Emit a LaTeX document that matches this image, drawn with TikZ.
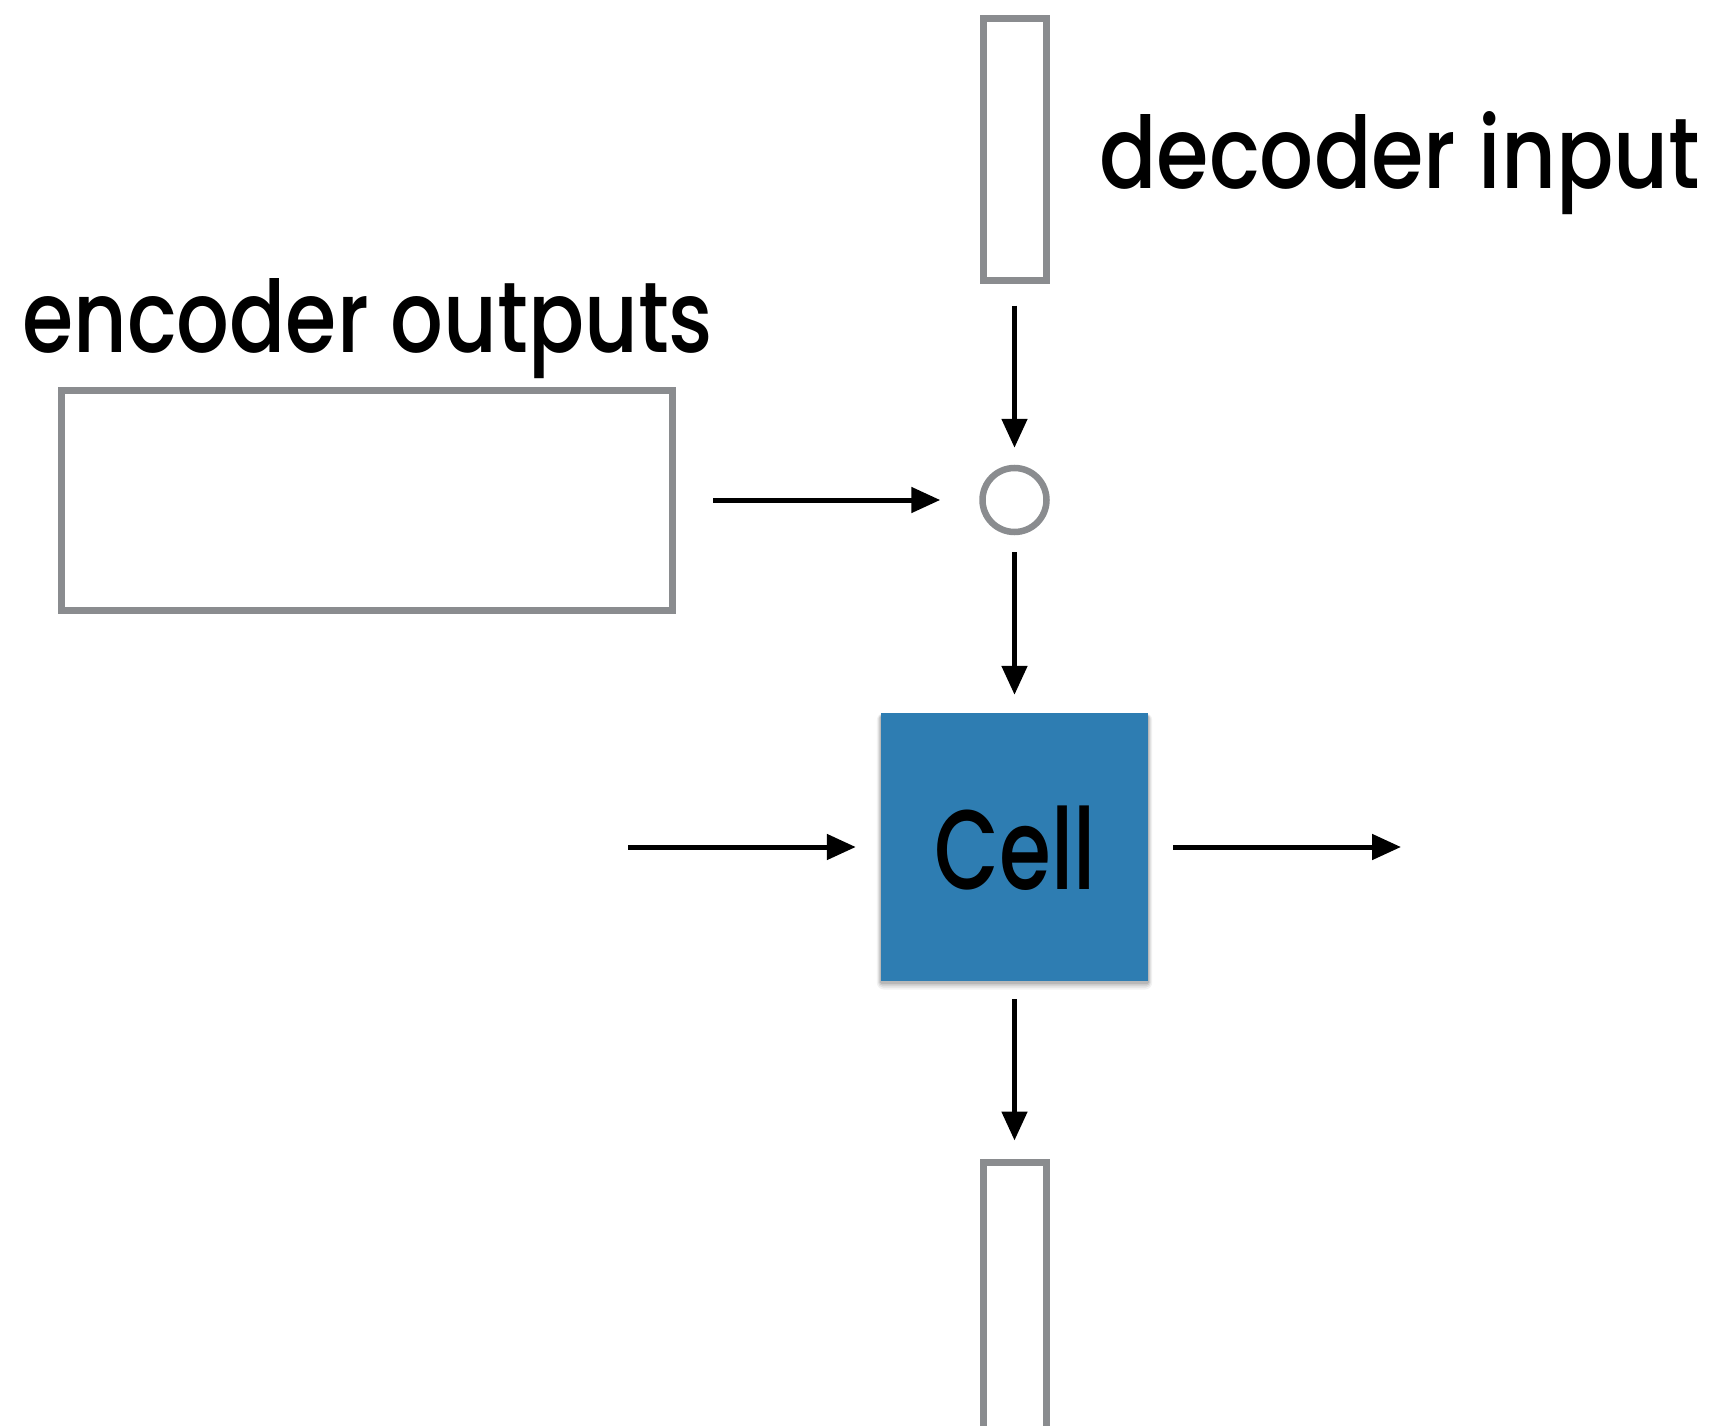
\documentclass[tikz,border=0pt]{standalone}
\usepackage{fontspec}
\usepackage{graphicx}
\setmainfont{Poppins}[UprightFont=* Medium]
\usetikzlibrary{arrows.meta}
\definecolor{boxgray}{HTML}{8A8C8F}
\definecolor{cellblue}{RGB}{46,125,178}
\begin{document}
\begin{tikzpicture}[x=1pt,y=-1pt,
  outline/.style={draw=boxgray,line width=7pt,fill=white,inner sep=0pt,rectangle},
  flow/.style={-{Triangle[length=29pt,width=25pt]},line width=5pt},
  caption/.style={inner sep=0pt,anchor=base west},
  cellbox/.style={fill=cellblue,inner sep=0pt,minimum width=267pt,minimum height=268pt}]
\useasboundingbox (0,0) rectangle (1714,1426);
\clip (0,0) rectangle (1714,1426);

% vectors and attention pieces
\node[outline,minimum width=63pt,minimum height=261pt] (dec) at (1014.5,149.5) {};
\node[outline,minimum width=611pt,minimum height=220pt] (enc) at (367,500) {};
\node[draw=boxgray,line width=6.5pt,circle,minimum size=64pt,inner sep=0pt] (att) at (1014.5,500) {};

% soft shadow under the cell
\foreach \s/\o in {7/0.05,5/0.07,3/0.09,1.5/0.10}
  \fill[black,opacity=\o,rounded corners=\s pt] (881-\s*0.6,716-\s*0.4) rectangle (1148+\s*0.6,981+\s+1.5);
\node[cellbox] (cell) at (1014.5,847) {};
\node at (1015,848) {\fontsize{113}{120}\selectfont\resizebox{161pt}{\height}{Cell}};
\node[outline,minimum width=63pt,minimum height=300pt] (out) at (1014.5,1312) {};

% labels
\node[caption] (declab) at (1099,189) {\fontsize{100}{110}\selectfont\resizebox{601pt}{\height}{decoder input}};
\node[caption] (enclab) at (22,352) {\fontsize{100}{110}\selectfont\resizebox{691pt}{\height}{encoder outputs}};

% free ends of the recurrent state arrows
\coordinate (hin) at (628,847);
\coordinate (hout) at (1401,847);

% connectors
\draw[flow,shorten <=22pt,shorten >=17pt] (dec.south) -- (att.north);
\draw[flow,shorten <=37pt,shorten >=39pt] (enc.east) -- (att.west);
\draw[flow,shorten <=17pt,shorten >=18pt] (att.south) -- (cell.north);
\draw[flow,shorten >=25pt] (hin) -- (cell.west);
\draw[flow,shorten <=25pt] (cell.east) -- (hout);
\draw[flow,shorten <=18pt,shorten >=18pt] (cell.south) -- (out.north);
\end{tikzpicture}
\end{document}
